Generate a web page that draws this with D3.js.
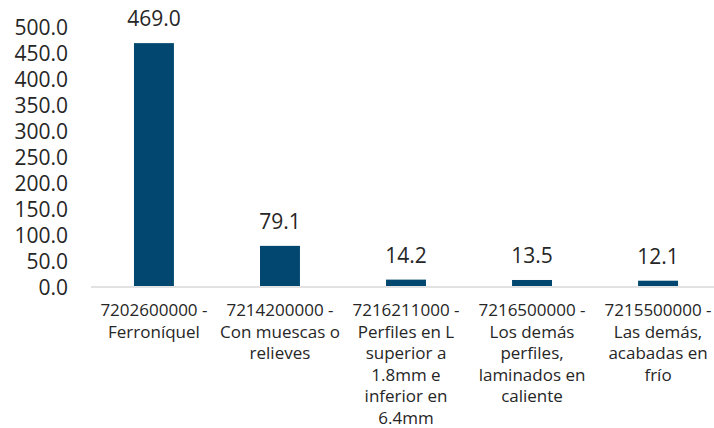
<!DOCTYPE html>
<html>
<head>
<meta charset="utf-8">
<script src="https://cdn.jsdelivr.net/npm/d3@7"></script>
<style>
  body { margin: 0; background: #fff; }
  text { font-family: "Open Sans", sans-serif; fill: #262626; }
</style>
</head>
<body>
<script>
// data
var categories = [
  "7202600000 -\nFerroníquel",
  "7214200000 -\nCon muescas o\nrelieves",
  "7216211000 -\nPerfiles en L\nsuperior a\n1.8mm e\ninferior en\n6.4mm",
  "7216500000 -\nLos demás\nperfiles,\nlaminados en\ncaliente",
  "7215500000 -\nLas demás,\nacabadas en\nfrío"
];
var values = [469.0, 79.1, 14.2, 13.5, 12.1];
var yTicks = [0, 50, 100, 150, 200, 250, 300, 350, 400, 450, 500];

var width = 714, height = 428;

var svg = d3.select("body").append("svg")
    .attr("width", width)
    .attr("height", height);

var x = d3.scaleBand()
    .domain(categories)
    .range([91, 721])
    .paddingInner(0.683)
    .paddingOuter(0.341);

var y = d3.scaleLinear()
    .domain([0, 500])
    .range([287, 27]);

// y tick labels (no axis line)
svg.selectAll(".ytick")
    .data(yTicks)
    .enter()
    .append("text")
    .attr("class", "ytick")
    .attr("x", 68)
    .attr("y", function(d) { return y(d); })
    .attr("dy", "0.36em")
    .attr("text-anchor", "end")
    .attr("font-size", "21px")
    .text(function(d) { return d3.format(".1f")(d); });

// bars
svg.selectAll("rect")
    .data(values)
    .enter()
    .append("rect")
    .attr("x", function(d, i) { return x(categories[i]); })
    .attr("y", function(d) { return y(d); })
    .attr("width", x.bandwidth())
    .attr("height", function(d) { return y(0) - y(d) - 1; })
    .attr("fill", "#02476f");

// baseline
svg.append("line")
    .attr("x1", 91)
    .attr("x2", width)
    .attr("y1", y(0))
    .attr("y2", y(0))
    .attr("stroke", "#d9d9d9")
    .attr("stroke-width", 1.5);

// value labels
svg.selectAll(".vlabel")
    .data(values)
    .enter()
    .append("text")
    .attr("class", "vlabel")
    .attr("x", function(d, i) { return x(categories[i]) + x.bandwidth() / 2; })
    .attr("y", function(d) { return y(d) - 17; })
    .attr("text-anchor", "middle")
    .attr("font-size", "21px")
    .text(function(d) { return d3.format(".1f")(d); });

// category labels, one tspan per line
var cat = svg.selectAll(".cat")
    .data(categories)
    .enter()
    .append("text")
    .attr("class", "cat")
    .attr("text-anchor", "middle")
    .attr("font-size", "17px");

cat.each(function(d) {
    var t = d3.select(this);
    var cx = x(d) + x.bandwidth() / 2;
    d.split("\n").forEach(function(line, j) {
        t.append("tspan")
            .attr("x", cx)
            .attr("y", 316 + j * 21.5)
            .text(line);
    });
});
</script>
</body>
</html>
